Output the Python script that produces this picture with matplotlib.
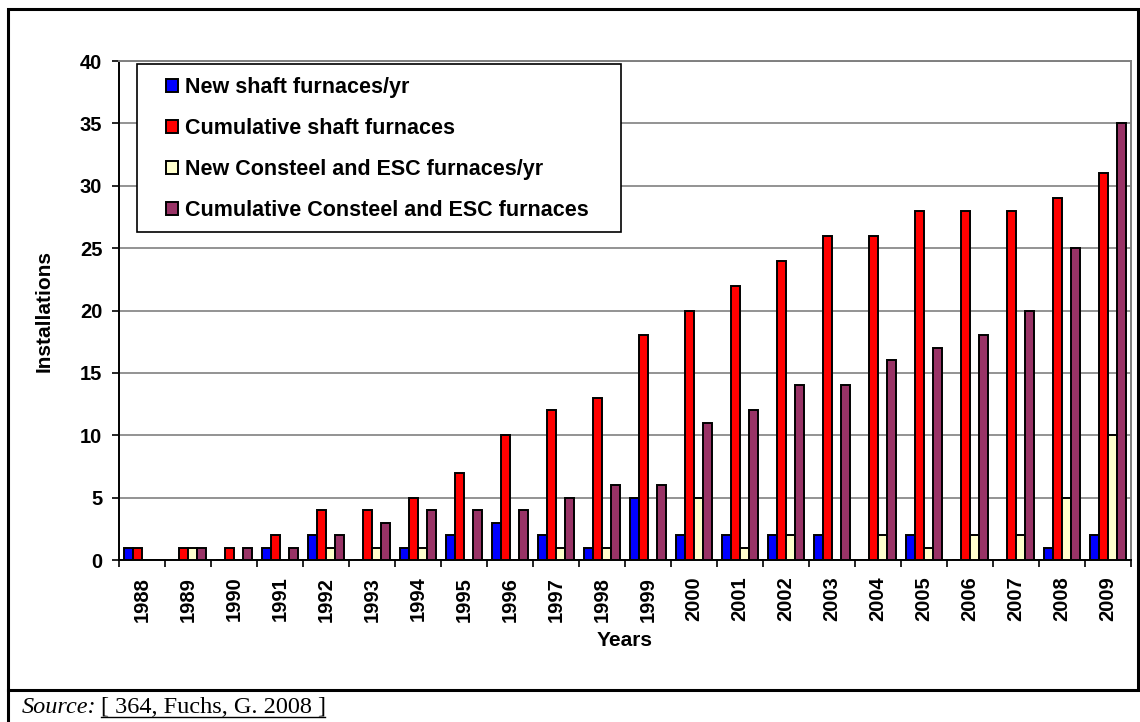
import numpy as np
import matplotlib.pyplot as plt
from matplotlib.patches import Rectangle
from matplotlib.lines import Line2D

# data
years = [str(y) for y in range(1988, 2010)]
new_shaft = [1, 0, 0, 1, 2, 0, 1, 2, 3, 2, 1, 5, 2, 2, 2, 2, 0, 2, 0, 0, 1, 2]
cum_shaft = [1, 1, 1, 2, 4, 4, 5, 7, 10, 12, 13, 18, 20, 22, 24, 26, 26, 28, 28, 28, 29, 31]
new_consteel = [0, 1, 0, 0, 1, 1, 1, 0, 0, 1, 1, 0, 5, 1, 2, 0, 2, 1, 2, 2, 5, 10]
cum_consteel = [0, 1, 1, 1, 2, 3, 4, 4, 4, 5, 6, 6, 11, 12, 14, 14, 16, 17, 18, 20, 25, 35]

series = [new_shaft, cum_shaft, new_consteel, cum_consteel]
labels = ['New shaft furnaces/yr', 'Cumulative shaft furnaces',
          'New Consteel and ESC furnaces/yr', 'Cumulative Consteel and ESC furnaces']
colors = ['#0000ff', '#ff0000', '#ffffcc', '#993366']

plt.rcParams['font.family'] = ['Liberation Sans', 'DejaVu Sans']

W, H = 1140, 722
fig = plt.figure(figsize=(W / 100, H / 100), dpi=100)
ax = fig.add_axes([119 / W, 1 - 560 / H, (1131 - 119) / W, (560 - 61) / H])

x = np.arange(len(years))
w = 0.192
for i, (vals, lab, col) in enumerate(zip(series, labels, colors)):
    ax.bar(x + (i - 1.5) * w, vals, width=w, color=col, edgecolor='black',
           linewidth=1.4, label=lab, zorder=3)

ax.set_xlim(-0.5, len(years) - 0.5)
ax.set_ylim(0, 40)
ax.set_yticks(range(0, 41, 5))
ax.set_xticks(np.arange(-0.5, len(years), 1))
ax.set_xticklabels([])
ax.set_xticks(x, minor=True)
ax.set_xticklabels(years, minor=True, rotation=90, fontsize=14.5, fontweight='bold')
ax.tick_params(axis='x', which='minor', length=0, pad=12)
ax.tick_params(axis='x', which='major', length=5, width=1.2, direction='out')
ax.tick_params(axis='y', length=5, width=1.2, labelsize=14.5, pad=7)
for t in ax.get_yticklabels():
    t.set_fontweight('bold')

ax.yaxis.grid(True, color='#808080', linewidth=1.2, zorder=0)
ax.spines['left'].set_linewidth(1.4)
ax.spines['bottom'].set_linewidth(1.4)
for s in ['top', 'right']:
    ax.spines[s].set_color('#808080')
    ax.spines[s].set_linewidth(1.4)

ax.set_xlabel('Years', fontsize=15, fontweight='bold', labelpad=7)
ax.set_ylabel('Installations', fontsize=15, fontweight='bold', labelpad=19)

# legend box (frame drawn separately so it can be sized like the original)
ax.add_patch(Rectangle((137 / W, 1 - 232 / H), (621 - 137) / W, (232 - 64) / H,
                       transform=fig.transFigure, facecolor='white',
                       edgecolor='black', linewidth=1.2, zorder=4, clip_on=False))
leg = ax.legend(loc='upper left', bbox_to_anchor=(166 / W, 1 - 77 / H),
                bbox_transform=fig.transFigure, prop={'weight': 'bold', 'size': 15.5},
                frameon=False, handlelength=0.56, handleheight=0.56,
                handletextpad=0.33, labelspacing=0.93, borderpad=0, borderaxespad=0)
leg.set_zorder(5)

# outer frame and source row
fig.add_artist(Rectangle((8 / W, 1 - 690 / H), 1130 / W, 681 / H,
                         transform=fig.transFigure, fill=False,
                         edgecolor='black', linewidth=2.2))
fig.add_artist(Line2D([8 / W, 8 / W], [0, 1 - 690 / H],
                      transform=fig.transFigure, color='black', linewidth=2.2))
fig.text(22 / W, 1 - 713 / H, 'Source:', family='Liberation Serif',
         style='italic', fontsize=17.5, va='baseline')
fig.text(101 / W, 1 - 713 / H, '[ 364, Fuchs, G. 2008 ]',
         family='Liberation Serif', fontsize=17.5, va='baseline')
fig.add_artist(Line2D([101 / W, 325 / W], [1 - 717 / H, 1 - 717 / H],
                      transform=fig.transFigure, color='black', linewidth=1))

fig.savefig('out.png', dpi=100)
